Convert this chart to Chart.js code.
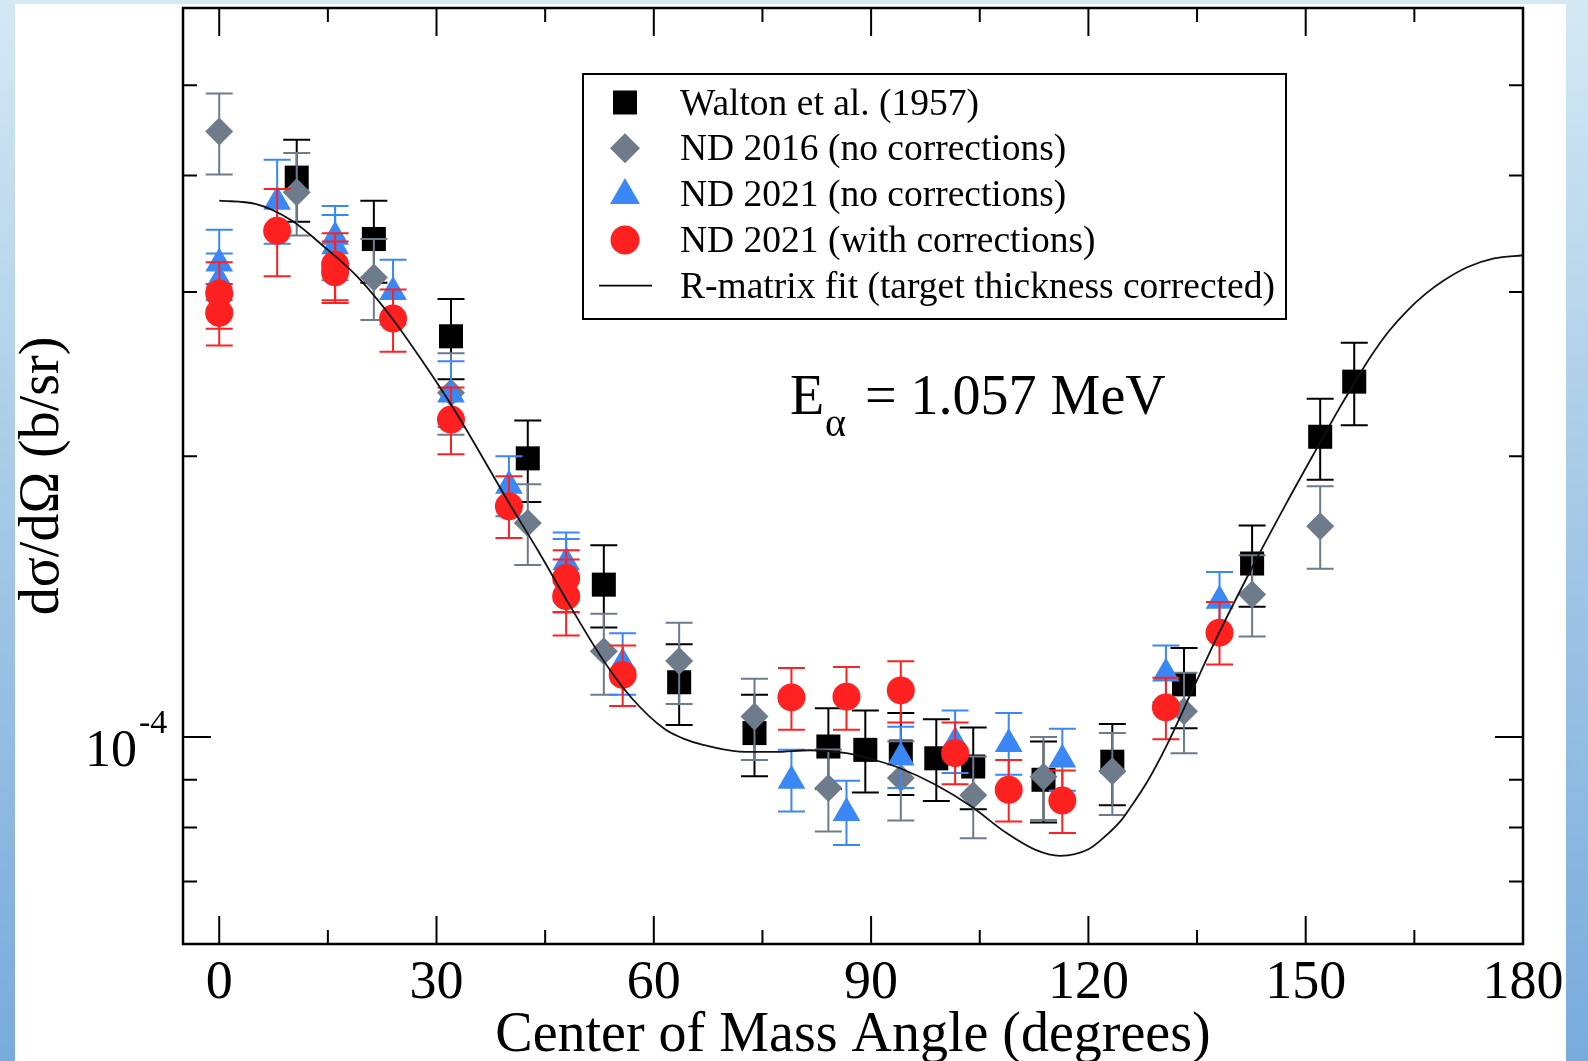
<!DOCTYPE html>
<html>
<head>
<meta charset="utf-8">
<title>Differential cross section, E = 1.057 MeV</title>
<script src="https://cdn.jsdelivr.net/npm/chart.js"></script>
<style>
  html, body { margin: 0; padding: 0; width: 1588px; height: 1061px; overflow: hidden;
    background: linear-gradient(to bottom, #d4e9f4 0%, #a8cbe7 45%, #78abdc 100%); }
  #sheet { position: absolute; left: 15px; top: 4px; width: 1551px; height: 1057px; background: #fff; }
  #chart { position: absolute; left: 0; top: 0; }
</style>
</head>
<body>
<div id="sheet"></div>
<canvas id="chart" width="1588" height="1061"></canvas>
<script>
// Walton et al. (1957)
const waltonAngle = [10.7, 21.35, 32.0, 42.6, 53.1, 63.5, 73.9, 84.1, 89.2, 94.1, 99.0, 104.1, 113.8, 123.3, 133.2, 142.6, 152.0, 156.7];
const waltonValue = [3.98e-4, 3.42e-4, 2.69e-4, 1.99e-4, 1.457e-4, 1.145e-4, 1.01e-4, 0.977e-4, 0.969e-4, 0.965e-4, 0.949e-4, 0.930e-4, 0.900e-4, 0.941e-4, 1.139e-4, 1.535e-4, 2.099e-4, 2.405e-4];
const waltonHi = [4.37e-4, 3.76e-4, 2.95e-4, 2.185e-4, 1.606e-4, 1.258e-4, 1.11e-4, 1.074e-4, 1.068e-4, 1.061e-4, 1.045e-4, 1.024e-4, 0.989e-4, 1.033e-4, 1.246e-4, 1.686e-4, 2.305e-4, 2.647e-4];
const waltonLo = [3.57e-4, 3.07e-4, 2.42e-4, 1.787e-4, 1.311e-4, 1.03e-4, 0.908e-4, 0.88e-4, 0.872e-4, 0.867e-4, 0.854e-4, 0.837e-4, 0.810e-4, 0.845e-4, 1.022e-4, 1.38e-4, 1.888e-4, 2.16e-4];

// ND 2016 (no corrections)
const nd16Angle = [0, 10.7, 21.35, 32.0, 42.6, 53.1, 63.5, 73.9, 84.1, 94.1, 104.1, 113.8, 123.3, 133.2, 142.6, 152.0];
const nd16Value = [4.46e-4, 3.84e-4, 3.11e-4, 2.34e-4, 1.697e-4, 1.236e-4, 1.207e-4, 1.052e-4, 0.882e-4, 0.904e-4, 0.866e-4, 0.907e-4, 0.919e-4, 1.066e-4, 1.422e-4, 1.683e-4];
const nd16Hi = [4.90e-4, 4.23e-4, 3.42e-4, 2.58e-4, 1.867e-4, 1.356e-4, 1.326e-4, 1.155e-4, 0.97e-4, 0.99e-4, 0.953e-4, 1.0e-4, 1.01e-4, 1.172e-4, 1.567e-4, 1.858e-4];
const nd16Lo = [4.01e-4, 3.45e-4, 2.80e-4, 2.11e-4, 1.529e-4, 1.11e-4, 1.085e-4, 0.945e-4, 0.792e-4, 0.814e-4, 0.779e-4, 0.815e-4, 0.825e-4, 0.961e-4, 1.282e-4, 1.515e-4];

// ND 2021 (no corrections)
const nd21Angle = [0, 0, 8.0, 16.0, 16.0, 24.0, 32.0, 40.0, 47.9, 47.9, 55.7, 79.0, 86.6, 94.1, 101.6, 109.0, 116.4, 130.7, 138.1];
const nd21Value = [3.22e-4, 3.09e-4, 3.75e-4, 3.44e-4, 3.36e-4, 3.00e-4, 2.33e-4, 1.86e-4, 1.54e-4, 1.49e-4, 1.20e-4, 0.898e-4, 0.829e-4, 0.951e-4, 0.988e-4, 0.983e-4, 0.946e-4, 1.17e-4, 1.40e-4];
const nd21Hi = [3.50e-4, 3.30e-4, 4.16e-4, 3.71e-4, 3.63e-4, 3.25e-4, 2.53e-4, 2.0e-4, 1.657e-4, 1.631e-4, 1.292e-4, 0.969e-4, 0.898e-4, 1.026e-4, 1.068e-4, 1.061e-4, 1.021e-4, 1.254e-4, 1.503e-4];
const nd21Lo = [2.94e-4, 2.88e-4, 3.38e-4, 3.17e-4, 3.09e-4, 2.77e-4, 2.15e-4, 1.725e-4, 1.40e-4, 1.36e-4, 1.11e-4, 0.832e-4, 0.766e-4, 0.882e-4, 0.915e-4, 0.911e-4, 0.876e-4, 1.09e-4, 1.30e-4];

// ND 2021 (with corrections)
const nd21cAngle = [0, 0, 8.0, 16.0, 16.0, 24.0, 32.0, 40.0, 47.9, 47.9, 55.7, 79.0, 86.6, 94.1, 101.6, 109.0, 116.4, 130.7, 138.1];
const nd21cValue = [2.99e-4, 2.85e-4, 3.49e-4, 3.21e-4, 3.15e-4, 2.81e-4, 2.19e-4, 1.768e-4, 1.481e-4, 1.416e-4, 1.166e-4, 1.103e-4, 1.105e-4, 1.122e-4, 0.961e-4, 0.878e-4, 0.855e-4, 1.076e-4, 1.294e-4];
const nd21cHi = [3.23e-4, 3.06e-4, 3.87e-4, 3.47e-4, 3.40e-4, 3.02e-4, 2.37e-4, 1.904e-4, 1.586e-4, 1.55e-4, 1.254e-4, 1.186e-4, 1.189e-4, 1.206e-4, 1.037e-4, 0.945e-4, 0.921e-4, 1.158e-4, 1.396e-4];
const nd21cLo = [2.74e-4, 2.63e-4, 3.12e-4, 2.94e-4, 2.92e-4, 2.59e-4, 2.01e-4, 1.635e-4, 1.362e-4, 1.285e-4, 1.08e-4, 1.018e-4, 1.018e-4, 1.037e-4, 0.890e-4, 0.812e-4, 0.789e-4, 0.995e-4, 1.196e-4];

// R-matrix fit
const fitAngle = [0, 5, 10, 14.4, 19, 23.6, 28.2, 31.9, 35, 39.5, 43.9, 48.5, 53, 57, 61.5, 64, 66.8, 71.8, 76.7, 81.6, 86.6, 90.5, 94, 98.9, 103.8, 108.7, 112.7, 116.1, 120, 122.5, 124.4, 126, 128.1, 130.9, 134.1, 137.8, 142.6, 147.4, 152, 154.4, 156.7, 159, 161.5, 164, 166.5, 169, 172.3, 176, 180];
const fitValue = [3.76e-4, 3.73e-4, 3.58e-4, 3.36e-4, 3.12e-4, 2.83e-4, 2.52e-4, 2.28e-4, 2.08e-4, 1.81e-4, 1.59e-4, 1.38e-4, 1.21e-4, 1.10e-4, 1.02e-4, 0.997e-4, 0.981e-4, 0.965e-4, 0.964e-4, 0.968e-4, 0.961e-4, 0.945e-4, 0.926e-4, 0.889e-4, 0.843e-4, 0.789e-4, 0.757e-4, 0.746e-4, 0.758e-4, 0.785e-4, 0.812e-4, 0.845e-4, 0.895e-4, 0.983e-4, 1.112e-4, 1.282e-4, 1.52e-4, 1.785e-4, 2.07e-4, 2.235e-4, 2.395e-4, 2.56e-4, 2.725e-4, 2.865e-4, 2.985e-4, 3.085e-4, 3.19e-4, 3.26e-4, 3.286e-4];

// axes
const xMajorTicks = [0, 30, 60, 90, 120, 150, 180];
const xMinorTicks = [15, 45, 75, 105, 135, 165];
const yMajorTicks = [1e-4];
const yMinorTicks = [7e-5, 8e-5, 9e-5, 2e-4, 3e-4, 4e-4, 5e-4];

const BLACK = '#000000';
const GRAY = '#6e7b8b';
const BLUE = '#3a87f5';
const RED = '#ff2020';
const SERIF = '"Liberation Serif", "DejaVu Serif", serif';

function points(angle, value) {
  return angle.map((a, i) => ({ x: a, y: value[i] }));
}

const errorBars = {
  id: 'errorBars',
  beforeDatasetDraw(chart, args) {
    const ds = chart.data.datasets[args.index];
    if (!ds.errHi) return;
    const { ctx, scales: { x, y } } = chart;
    ctx.save();
    ctx.strokeStyle = ds.backgroundColor;
    ctx.lineWidth = 2;
    ds.data.forEach((p, i) => {
      const px = x.getPixelForValue(p.x);
      const top = y.getPixelForValue(ds.errHi[i]);
      const bot = y.getPixelForValue(ds.errLo[i]);
      ctx.beginPath();
      ctx.moveTo(px, top); ctx.lineTo(px, bot);
      ctx.moveTo(px - 13.5, top); ctx.lineTo(px + 13.5, top);
      ctx.moveTo(px - 13.5, bot); ctx.lineTo(px + 13.5, bot);
      ctx.stroke();
    });
    ctx.restore();
  }
};

function drawSymbol(ctx, kind, cx, cy, color) {
  ctx.fillStyle = color;
  ctx.beginPath();
  if (kind === 'rect') {
    ctx.rect(cx - 12, cy - 12, 24, 24);
  } else if (kind === 'diamond') {
    ctx.moveTo(cx - 15, cy); ctx.lineTo(cx, cy - 15); ctx.lineTo(cx + 15, cy); ctx.lineTo(cx, cy + 15);
    ctx.closePath();
  } else if (kind === 'triangle') {
    ctx.moveTo(cx, cy - 16); ctx.lineTo(cx + 15, cy + 10); ctx.lineTo(cx - 15, cy + 10);
    ctx.closePath();
  } else {
    ctx.arc(cx, cy, 14.5, 0, Math.PI * 2);
  }
  ctx.fill();
}

const frame = {
  id: 'frame',
  afterDraw(chart) {
    const { ctx, chartArea: a, scales: { x, y } } = chart;
    ctx.save();
    ctx.strokeStyle = '#000';
    ctx.fillStyle = '#000';
    ctx.lineWidth = 2;

    // ticks, pointing inward on all four sides
    ctx.beginPath();
    const xt = (v, len) => {
      const px = x.getPixelForValue(v);
      ctx.moveTo(px, a.bottom); ctx.lineTo(px, a.bottom - len);
      ctx.moveTo(px, a.top); ctx.lineTo(px, a.top + len);
    };
    const yt = (v, len) => {
      const py = y.getPixelForValue(v);
      ctx.moveTo(a.left, py); ctx.lineTo(a.left + len, py);
      ctx.moveTo(a.right, py); ctx.lineTo(a.right - len, py);
    };
    xMajorTicks.forEach(v => xt(v, 28));
    xMinorTicks.forEach(v => xt(v, 14));
    yMajorTicks.forEach(v => yt(v, 28));
    yMinorTicks.forEach(v => yt(v, 14));
    ctx.stroke();

    ctx.lineWidth = 2.5;
    ctx.strokeRect(a.left, a.top, a.right - a.left, a.bottom - a.top);

    // tick labels
    ctx.font = '54px ' + SERIF;
    ctx.textAlign = 'center';
    ctx.textBaseline = 'alphabetic';
    xMajorTicks.forEach(v => ctx.fillText(String(v), x.getPixelForValue(v), a.bottom + 54));
    yMajorTicks.forEach(v => {
      const py = y.getPixelForValue(v);
      ctx.textAlign = 'left';
      ctx.font = '52px ' + SERIF;
      ctx.fillText('10', 85, py + 29);
      ctx.font = '34px ' + SERIF;
      ctx.fillText('-4', 139, py - 4);
    });

    // axis titles
    ctx.font = '56px ' + SERIF;
    ctx.textAlign = 'center';
    ctx.fillText('Center of Mass Angle (degrees)', (a.left + a.right) / 2, 1051);
    ctx.save();
    ctx.translate(43, (a.top + a.bottom) / 2);
    ctx.rotate(-Math.PI / 2);
    ctx.textBaseline = 'middle';
    ctx.fillText('d\u03c3/d\u03a9 (b/sr)', 0, 0);
    ctx.restore();

    // energy label
    ctx.textAlign = 'left';
    ctx.font = '56px ' + SERIF;
    ctx.fillText('E', 790, 414);
    ctx.font = '40px ' + SERIF;
    ctx.fillText('\u03b1', 825, 436);
    ctx.font = '56px ' + SERIF;
    ctx.fillText('= 1.057 MeV', 865, 414);

    // legend
    ctx.fillStyle = '#fff';
    ctx.fillRect(583, 74, 703, 245);
    ctx.lineWidth = 2;
    ctx.strokeRect(583, 74, 703, 245);
    const rows = [
      ['rect', BLACK, 'Walton et al. (1957)'],
      ['diamond', GRAY, 'ND 2016 (no corrections)'],
      ['triangle', BLUE, 'ND 2021 (no corrections)'],
      ['circle', RED, 'ND 2021 (with corrections)'],
      ['line', BLACK, 'R-matrix fit (target thickness corrected)']
    ];
    ctx.font = '37.5px ' + SERIF;
    rows.forEach((r, i) => {
      const cy = 102.5 + i * 45.8;
      if (r[0] === 'line') {
        ctx.beginPath();
        ctx.moveTo(599, cy); ctx.lineTo(652, cy);
        ctx.strokeStyle = '#000';
        ctx.lineWidth = 1.8;
        ctx.stroke();
      } else {
        drawSymbol(ctx, r[0], 625, cy, r[1]);
      }
      ctx.fillStyle = '#000';
      ctx.fillText(r[2], 680, cy + 12);
    });
    ctx.restore();
  }
};

new Chart(document.getElementById('chart'), {
  type: 'scatter',
  data: {
    datasets: [
      {
        label: 'R-matrix fit (target thickness corrected)',
        type: 'line',
        data: points(fitAngle, fitValue),
        borderColor: '#111',
        borderWidth: 1.8,
        pointRadius: 0,
        cubicInterpolationMode: 'monotone',
        fill: false,
        order: 0
      },
      {
        label: 'ND 2021 (with corrections)',
        data: points(nd21cAngle, nd21cValue),
        errHi: nd21cHi, errLo: nd21cLo,
        backgroundColor: RED, borderWidth: 0,
        pointStyle: 'circle', pointRadius: 14,
        order: 1
      },
      {
        label: 'ND 2021 (no corrections)',
        data: points(nd21Angle, nd21Value),
        errHi: nd21Hi, errLo: nd21Lo,
        backgroundColor: BLUE, borderWidth: 0,
        pointStyle: 'triangle', pointRadius: 16,
        order: 2
      },
      {
        label: 'ND 2016 (no corrections)',
        data: points(nd16Angle, nd16Value),
        errHi: nd16Hi, errLo: nd16Lo,
        backgroundColor: GRAY, borderWidth: 0,
        pointStyle: 'rectRot', pointRadius: 14,
        order: 3
      },
      {
        label: 'Walton et al. (1957)',
        data: points(waltonAngle, waltonValue),
        errHi: waltonHi, errLo: waltonLo,
        backgroundColor: BLACK, borderWidth: 0,
        pointStyle: 'rect', pointRadius: 17,
        order: 4
      }
    ]
  },
  options: {
    responsive: false,
    animation: false,
    layout: { autoPadding: false, padding: { left: 183, top: 8, right: 65, bottom: 117 } },
    plugins: { legend: { display: false }, tooltip: { enabled: false } },
    scales: {
      x: {
        type: 'linear', min: -5, max: 180,
        grid: { display: false, drawTicks: false },
        border: { display: false },
        ticks: { display: false }
      },
      y: {
        type: 'logarithmic', min: 6e-5, max: 6.05e-4,
        grid: { display: false, drawTicks: false },
        border: { display: false },
        ticks: { display: false }
      }
    }
  },
  plugins: [errorBars, frame]
});
</script>
</body>
</html>
